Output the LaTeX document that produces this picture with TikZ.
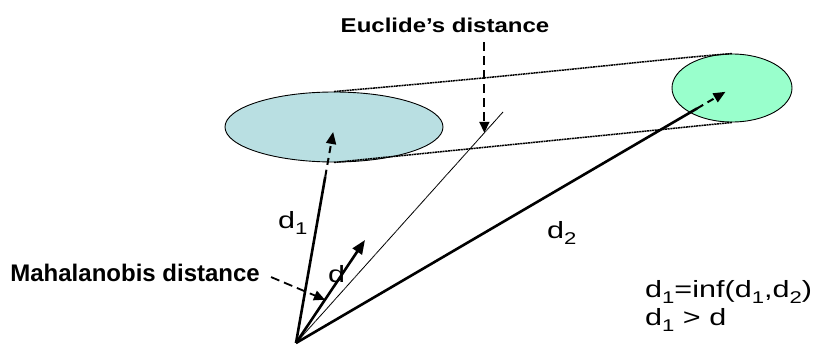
\documentclass[tikz,border=0pt]{standalone}
\usepackage{fontspec}
\setmainfont{Liberation Sans}
\newfontfamily\widefont[FakeStretch=1.3]{Liberation Sans}
\newfontfamily\widebold[FakeStretch=1.2]{Liberation Sans Bold}
\newfontfamily\plainbold{Liberation Sans Bold}
\usetikzlibrary{arrows.meta,positioning,shapes.geometric,calc}
\definecolor{paleblue}{RGB}{185,223,226}
\definecolor{palegreen}{RGB}{153,255,204}
\newcommand{\lowidx}[1]{\raisebox{-6pt}{\fontsize{17}{17}\selectfont #1}}

\begin{document}
\begin{tikzpicture}[x=1pt, y=-1pt,
  vec/.style={line width=2.6pt},
  vecdash/.style={line width=2pt, dash pattern=on 7pt off 5pt,
                  -{Triangle[length=12pt,width=10pt]}},
  pointer/.style={line width=1.8pt, dash pattern=on 9pt off 5pt,
                  -{Triangle[length=11pt,width=10pt]}},
  blob/.style={draw, ellipse, line width=0.9pt, inner sep=0pt},
  envelope/.style={line width=1.5pt, dash pattern=on 2pt off 0.6pt},
  lbl/.style={inner sep=0pt, font=\fontsize{23.5}{28}\widefont},
  caption/.style={inner sep=0pt, font=\fontsize{20}{24}\widebold}
]
  \useasboundingbox (0,0) rectangle (814,345);

  % clusters
  \node[blob, fill=paleblue, minimum width=218, minimum height=70] (blue) at (334,127) {};
  \node[blob, fill=palegreen, minimum width=120, minimum height=68] (green) at (732,88) {};
  \draw[envelope] (blue.north) .. controls (560,72) and (650,60) .. (green.north);
  \draw[envelope] (blue.south) -- (green.south);

  \coordinate (O) at (296,343);
  \coordinate (E) at (503,112);
  \coordinate (dend) at (365,240);

  % distances
  \draw[line width=0.9pt, dash pattern=on 1pt off 0.4pt] (O) -- (E);
  \draw[vec] (O) -- ($(O)!0.77!(blue)$);
  \draw[vecdash] ($(O)!0.77!(blue)$) -- ($(O)!0.977!(blue)$);
  \draw[vec] (O) -- ($(O)!0.92!(green)$);
  \draw[vecdash] ($(O)!0.92!(green)$) -- ($(O)!0.985!(green)$);
  \draw[vec, -{Triangle[length=14pt,width=11pt]}] (O) -- (dend);

  % labels
  \node[caption, anchor=base] (euc) at (445,33) {Euclide’s distance};
  \node[caption, font=\fontsize{24}{28}\plainbold, anchor=base east] (mah) at (260,281) {Mahalanobis distance};
  \coordinate (ep) at ($(O)!0.91!(E)$);
  \draw[pointer, shorten <=9pt] (euc.south -| ep) -- (ep);
  \draw[pointer, shorten <=12pt] (mah.east) -- ($(O)!0.42!(dend)$);

  \node[lbl, anchor=base west] (d1) at (278,228) {d\lowidx{1}};
  \node[lbl, anchor=base west] (d2) at (547,238) {d\lowidx{2}};
  \node[lbl, anchor=base west] (d) at (328,282) {d};
  \node[lbl, anchor=base west] (f1) at (645,297) {d\lowidx{1}=inf(d\lowidx{1},d\lowidx{2})};
  \node[lbl, anchor=base west] (f2) at (645,325) {d\lowidx{1} > d};
\end{tikzpicture}
\end{document}
